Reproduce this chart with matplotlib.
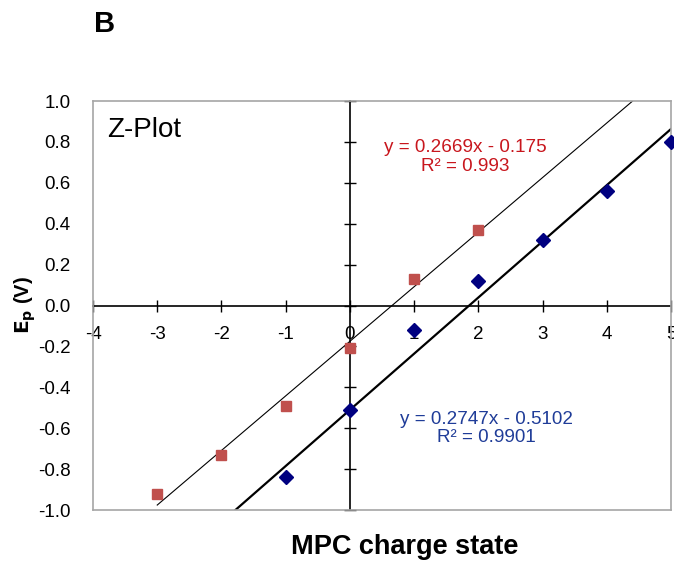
import numpy as np
import matplotlib
matplotlib.use('Agg')
import matplotlib.pyplot as plt

plt.rcParams['font.family'] = ['Liberation Sans', 'DejaVu Sans']

# data
red_x = [-3, -2, -1, 0, 1, 2]
red_y = [-0.92, -0.73, -0.49, -0.21, 0.13, 0.37]
blue_x = [-1, 0, 1, 2, 3, 4, 5]
blue_y = [-0.84, -0.51, -0.12, 0.12, 0.32, 0.56, 0.80]
red_fit = (0.2669, -0.175)
blue_fit = (0.2747, -0.5102)
x_ticks = [-4, -3, -2, -1, 0, 1, 2, 3, 4, 5]
y_ticks = [-1.0, -0.8, -0.6, -0.4, -0.2, 0.0, 0.2, 0.4, 0.6, 0.8, 1.0]

fig = plt.figure(figsize=(6.74, 5.63), dpi=100)
ax = fig.add_axes([0.138, 0.0941, 0.8576, 0.7265])
ax.set_xlim(-4, 5)
ax.set_ylim(-1, 1)

for s in ax.spines.values():
    s.set_color('#A6A6A6')
    s.set_linewidth(1.2)

# trend lines
xr = np.array([-3, 5])
ax.plot(xr, red_fit[0] * xr + red_fit[1], color='black', lw=0.8, zorder=2)
xb = np.array([-2, 5])
ax.plot(xb, blue_fit[0] * xb + blue_fit[1], color='black', lw=1.6, zorder=2)

ax.plot(red_x, red_y, 's', color='#C0504D', markersize=7.5, zorder=3, clip_on=False)
ax.plot(blue_x, blue_y, 'D', color='#000080', markersize=7, zorder=3, clip_on=False)

# primary axes: y labels at the left edge, no tick marks
ax.set_yticks(y_ticks)
ax.set_yticklabels(['%.1f' % v for v in y_ticks])
ax.tick_params(axis='y', length=0, labelsize=13.5, pad=16)
ax.set_xticks([])

# axis lines through zero with crossing ticks
sy = ax.secondary_yaxis(4 / 9)
sy.set_yticks(y_ticks)
sy.set_yticklabels([])
sy.tick_params(direction='inout', length=9, width=1, color='black')
sy.spines['left'].set_color('black')
sy.spines['left'].set_linewidth(1.2)

sx = ax.secondary_xaxis(0.5)
sx.xaxis.set_ticks_position('bottom')
sx.set_xticks(x_ticks)
sx.set_xticklabels([str(v) for v in x_ticks])
sx.tick_params(direction='inout', length=9, width=1, color='black', labelsize=13.5, pad=10,
               labelbottom=True, labeltop=False, bottom=True, top=False)
for k in ('top', 'bottom'):
    sx.spines[k].set_color('black')
    sx.spines[k].set_linewidth(1.2)

ax.text(-3.78, 0.86, 'Z-Plot', fontsize=20, va='center', ha='left')
ax.text(1.79, 0.726, 'y = 0.2669x - 0.175\nR\u00b2 = 0.993', color='#C8161D',
        fontsize=13.6, ha='center', va='center', linespacing=1.1)
ax.text(2.12, -0.60, 'y = 0.2747x - 0.5102\nR\u00b2 = 0.9901', color='#1F3C98',
        fontsize=13.6, ha='center', va='center', linespacing=1.1)

fig.text(0.037, 0.458, r'$\mathbf{E_p}$ (V)', rotation=90, fontsize=14.5,
         fontweight='bold', ha='center', va='center')
fig.text(0.6, 0.028, 'MPC charge state', fontsize=19.5, fontweight='bold',
         ha='center', va='center')
fig.text(0.139, 0.957, 'B', fontsize=21, fontweight='bold', ha='left', va='center')

plt.savefig('out.png', dpi=100)
